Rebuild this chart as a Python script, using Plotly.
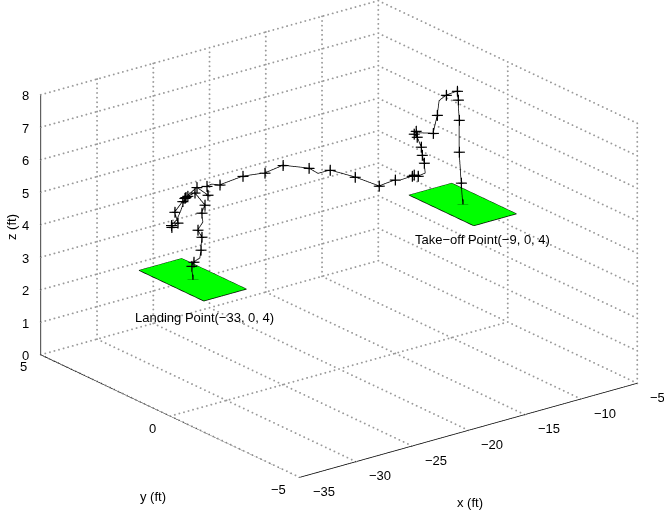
import math
import plotly.graph_objects as go

# ---- flight path (ft) ----
path_x = [-9.0, -9.14, -9.32, -9.32, -9.41, -9.49, -10.47, -11.1, -11.27, -11.63,
          -12.79, -13.15, -13.33, -13.06, -12.7, -12.61, -12.43, -12.34, -12.97, -13.33,
          -13.5, -14.57, -15.01, -16.44, -18.57, -20.8, -21.87, -22.67, -24.98, -26.59,
          -28.55, -30.59, -31.31, -31.75, -31.66, -32.64, -33.71, -33.45, -33.9, -34.6,
          -34.33, -34.87, -34.9, -34.42, -34.07, -33.62, -32.82, -31.93, -32.2, -32.1,
          -32.55, -32.2, -32.28, -32.37, -32.91, -33.09, -33.0]
path_y = [0.0] * len(path_x)
path_z = [4.0, 4.68, 5.65, 6.63, 7.26, 7.54, 7.51, 7.40, 6.97, 6.45,
          6.57, 6.66, 6.59, 6.47, 6.13, 5.87, 5.61, 5.29, 5.26, 5.33,
          5.31, 5.29, 5.34, 5.29, 5.77, 6.2, 6.2, 6.44, 6.75, 6.67,
          6.76, 6.69, 6.78, 6.76, 6.48, 6.81, 6.58, 6.62, 6.5, 6.24,
          5.88, 5.8, 5.86, 5.98, 6.23, 6.6, 6.66, 6.2, 5.98, 5.69,
          5.49, 5.24, 4.85, 4.61, 4.54, 4.43, 4.0]
# 1 = sample drawn with a '+' marker
path_marked = [1, 1, 1, 1, 1, 1, 1, 0, 1, 1,
               0, 1, 1, 1, 1, 1, 1, 0, 1, 1,
               1, 0, 1, 1, 1, 1, 0, 1, 1, 1,
               1, 1, 0, 1, 1, 1, 1, 1, 1, 1,
               1, 1, 1, 0, 0, 1, 1, 1, 1, 0,
               1, 1, 1, 0, 1, 1, 1]

# ---- pads ----
pad_names = ["Take\u2212off Point(\u22129, 0, 4)", "Landing Point(\u221233, 0, 4)"]
pad_x = [-9.0, -33.0]
pad_y = [0.0, 0.0]
pad_z = [4.0, 4.0]
pad_len_x = 3.8
pad_len_y = 2.5

# ---- axes ----
x_range = [-35, -5]
y_range = [-5, 5]
z_range = [0, 8]
x_ticks = [-35, -30, -25, -20, -15, -10, -5]
y_ticks = [-5, 0, 5]
z_ticks = [0, 1, 2, 3, 4, 5, 6, 7, 8]

FONT = "Liberation Sans, Arial, Helvetica, sans-serif"
FS = 13
W, H = 664, 513


def fmt(v):
    return str(v).replace("-", "\u2212")


def segs(pairs):
    xs, ys, zs = [], [], []
    for (a, b) in pairs:
        xs += [a[0], b[0], None]
        ys += [a[1], b[1], None]
        zs += [a[2], b[2], None]
    return xs, ys, zs


fig = go.Figure()

x0, x1 = x_range
y0, y1 = y_range
z0, z1 = z_range

# dotted grid on the three back planes (y = max, x = max, z = min),
# drawn as rows of small dots
grid = []
for xv in x_ticks:
    if xv != x0:
        grid.append(((xv, y1, z0), (xv, y1, z1), 56))
    grid.append(((xv, y0, z0), (xv, y1, z0), 60))
for zv in z_ticks:
    if zv != z0:
        grid.append(((x0, y1, zv), (x1, y1, zv), 74))
    grid.append(((x1, y0, zv), (x1, y1, zv), 60))
for yv in y_ticks:
    grid.append(((x1, yv, z0), (x1, yv, z1), 56))
    if yv != y0:
        grid.append(((x0, yv, z0), (x1, yv, z0), 74))
gx, gy, gz = [], [], []
for a, b, n in grid:
    for k in range(n + 1):
        t = k / n
        gx.append(a[0] + (b[0] - a[0]) * t)
        gy.append(a[1] + (b[1] - a[1]) * t)
        gz.append(a[2] + (b[2] - a[2]) * t)
fig.add_trace(go.Scatter3d(x=gx, y=gy, z=gz, mode="markers",
                           marker=dict(color="#9a9a9a", size=1.1, symbol="circle",
                                       line=dict(width=0)),
                           hoverinfo="skip", showlegend=False))

# solid axis lines with tick marks
axes = [((x0, y0, z0), (x1, y0, z0)),
        ((x0, y0, z0), (x0, y1, z0)),
        ((x0, y1, z0), (x0, y1, z1))]
tx, ty = 0.03 * (x1 - x0), 0.03 * (y1 - y0)
for xv in x_ticks:
    axes.append(((xv, y0, z0), (xv, y0 - ty, z0)))
for yv in y_ticks:
    axes.append(((x0, yv, z0), (x0 - tx, yv, z0)))
for zv in z_ticks:
    axes.append(((x0, y1, zv), (x0, y1 + ty, zv)))
ax_, ay_, az_ = segs(axes)
fig.add_trace(go.Scatter3d(x=ax_, y=ay_, z=az_, mode="lines",
                           line=dict(color="black", width=1.5),
                           hoverinfo="skip", showlegend=False))

# green pads with black outline
for cx, cy, cz in zip(pad_x, pad_y, pad_z):
    hx, hy = pad_len_x / 2, pad_len_y / 2
    vx = [cx - hx, cx + hx, cx + hx, cx - hx]
    vy = [cy - hy, cy - hy, cy + hy, cy + hy]
    vz = [cz] * 4
    fig.add_trace(go.Mesh3d(x=vx, y=vy, z=vz, i=[0, 0], j=[1, 2], k=[2, 3],
                            color="#00ff00", opacity=1, flatshading=True,
                            lighting=dict(ambient=1, diffuse=0, specular=0,
                                          roughness=1, fresnel=0),
                            hoverinfo="skip", showlegend=False))
    fig.add_trace(go.Scatter3d(x=vx + [vx[0]], y=vy + [vy[0]], z=vz + [vz[0]],
                               mode="lines", line=dict(color="black", width=1.5),
                               hoverinfo="skip", showlegend=False))

# flight path
fig.add_trace(go.Scatter3d(x=path_x, y=path_y, z=path_z, mode="lines",
                           line=dict(color="black", width=1.5),
                           hoverinfo="skip", showlegend=False))
mx = [v for v, m in zip(path_x, path_marked) if m]
my = [v for v, m in zip(path_y, path_marked) if m]
mz = [v for v, m in zip(path_z, path_marked) if m]
fig.add_trace(go.Scatter3d(x=mx, y=my, z=mz, mode="markers",
                           marker=dict(symbol="cross", size=6, color="black"),
                           hoverinfo="skip", showlegend=False))

# tick labels and pad labels as scene annotations
ann = []
tfont = dict(family=FONT, size=FS, color="black")
for xv in x_ticks:
    ann.append(dict(x=xv, y=y0, z=z0, text=fmt(xv), showarrow=False,
                    xanchor="left", yanchor="middle", xshift=11, yshift=-14, font=tfont))
for yv in y_ticks:
    ann.append(dict(x=x0, y=yv, z=z0, text=fmt(yv), showarrow=False,
                    xanchor="right", yanchor="middle", xshift=-12, yshift=-12, font=tfont))
for zv in z_ticks:
    ann.append(dict(x=x0, y=y1, z=zv, text=fmt(zv), showarrow=False,
                    xanchor="right", yanchor="middle", xshift=-10, yshift=-1, font=tfont))
ann.append(dict(x=pad_x[0], y=pad_y[0], z=pad_z[0], text=pad_names[0], showarrow=False,
                xanchor="left", yanchor="middle", xshift=-50, yshift=-35, font=tfont))
ann.append(dict(x=pad_x[1], y=pad_y[1], z=pad_z[1], text=pad_names[1], showarrow=False,
                xanchor="left", yanchor="middle", xshift=-60, yshift=-38, font=tfont))

# camera: azimuth -37.5 deg, elevation adjusted for the stretched box
az = math.radians(-37.5)
el = math.radians(21.3)
r = 1.9
eye = dict(x=r * math.sin(az) * math.cos(el),
           y=-r * math.cos(az) * math.cos(el),
           z=r * math.sin(el))

# box size (orthographic zoom is set through the aspect ratio)
box = 1.78
hidden = dict(visible=False)


def title(text, px, py, angle=0):
    return dict(x=px / W, y=1 - py / H, xref="paper", yref="paper", text=text,
                showarrow=False, xanchor="center", yanchor="middle",
                textangle=angle, font=tfont)


fig.update_layout(
    width=W, height=H,
    margin=dict(l=0, r=0, t=0, b=0),
    paper_bgcolor="white",
    font=dict(family=FONT, size=FS, color="black"),
    scene=dict(
        domain=dict(x=[0.021, 1.0], y=[0.068, 1.0]),
        xaxis=dict(range=x_range, **hidden),
        yaxis=dict(range=y_range, **hidden),
        zaxis=dict(range=z_range, **hidden),
        aspectmode="manual",
        aspectratio=dict(x=box, y=box, z=0.656 * box),
        camera=dict(eye=eye, up=dict(x=0, y=0, z=1), center=dict(x=0, y=0, z=0),
                    projection=dict(type="orthographic")),
        annotations=ann,
    ),
    annotations=[
        title("x (ft)", 470, 502),
        title("y (ft)", 153, 496),
        title("z (ft)", 12, 227, -90),
    ],
)

fig.write_html("out.html")
